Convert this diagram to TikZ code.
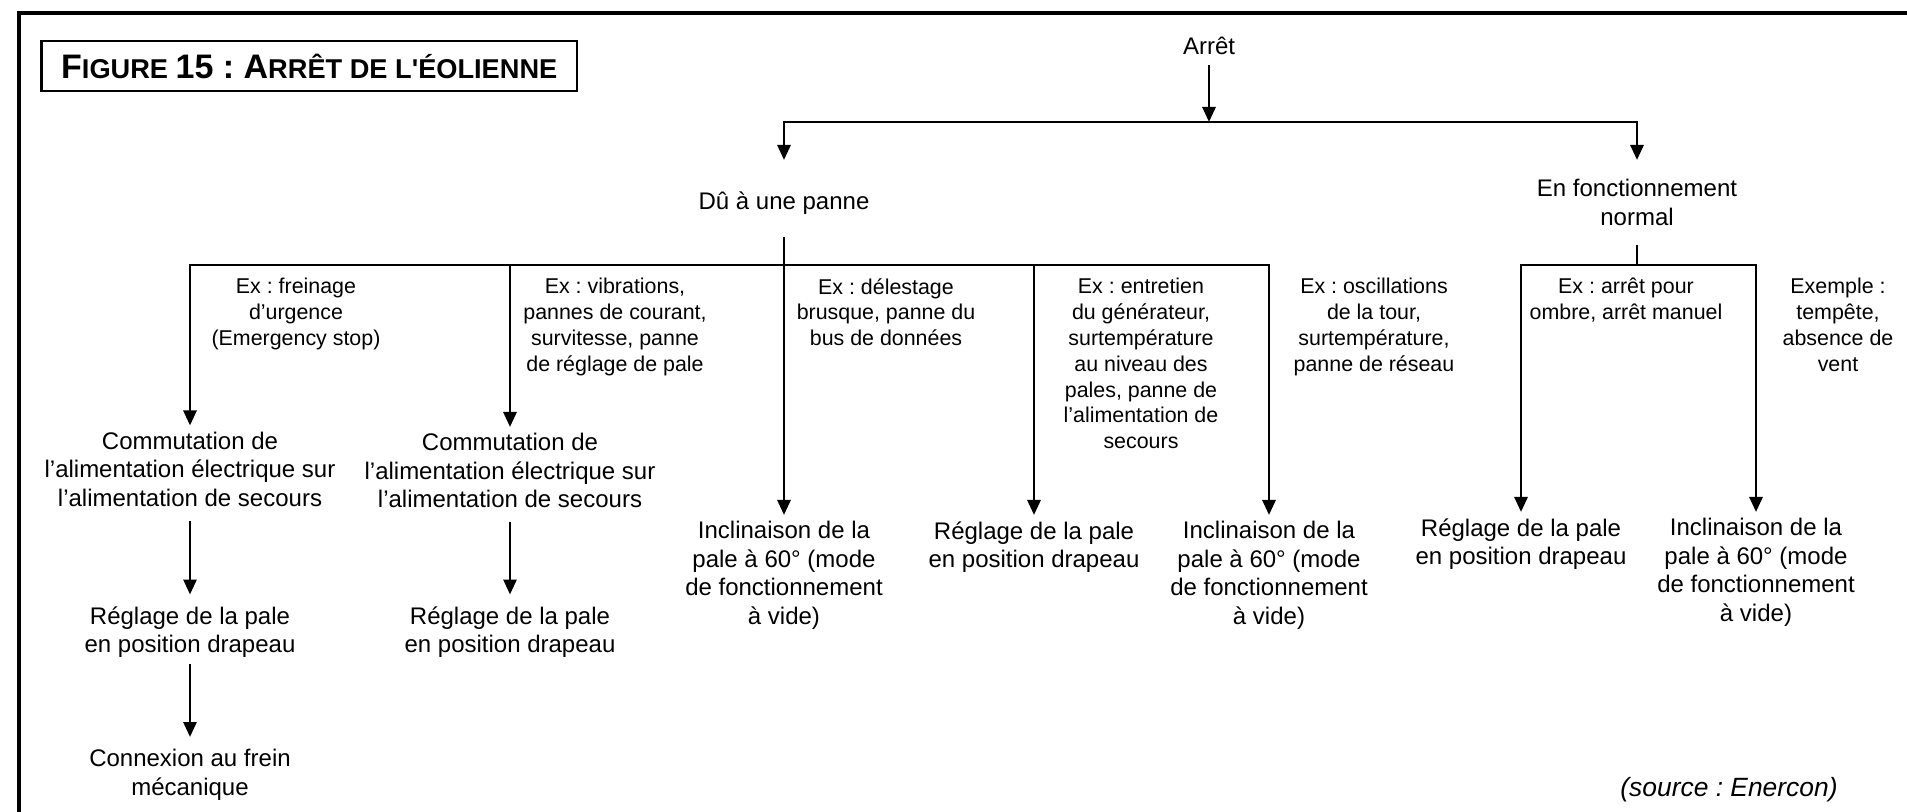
\documentclass[tikz,border=0pt]{standalone}
\usepackage{fontspec}
\setmainfont{Liberation Sans}
\newfontfamily\titlefont{Liberation Sans}
\usetikzlibrary{arrows.meta}
\tikzset{txt/.style={align=center,anchor=north,inner sep=3pt,font=\fontsize{12}{14.25}\selectfont},exlbl/.style={align=center,anchor=north,inner sep=0pt,font=\fontsize{10.7}{12.9}\selectfont},arr/.style={-{Triangle[length=7.5pt,width=6.5pt]},line width=1.4pt},bar/.style={line width=1.4pt}}
\newcommand{\capA}[1]{{\fontsize{17}{20}\selectfont #1}}
\newcommand{\capB}[1]{{\fontsize{13.6}{20}\selectfont #1}}
\frenchspacing

\begin{document}
\begin{tikzpicture}[x=0.5pt,y=-0.5pt]
\useasboundingbox (0,0) rectangle (1907,812);
\draw[line width=1.85pt] (19,812) |- (1907,13.3);
\node[draw,line width=1.2pt,minimum width=267.75pt,minimum height=25pt,inner sep=0pt,font=\titlefont\bfseries] (title) at (309.25,66) {\capA{F}\capB{IGURE }\capA{15 : A}\capB{RRÊT DE L\textquotesingle ÉOLIENNE}};
% main causes
\node[txt,anchor=center,inner ysep=5pt] (arret) at (1209,46) {Arrêt};
\node[txt,inner ysep=11.5pt] (panne) at (784,168) {Dû à une panne};
\node[txt,inner ysep=9.5pt] (normal) at (1637,160) {En fonctionnement\\normal};
% examples
\node[exlbl] (ex1) at (296,278) {Ex : freinage\\d’urgence\\(Emergency stop)};
\node[exlbl] (ex2) at (615,278) {Ex : vibrations,\\pannes de courant,\\survitesse, panne\\de réglage de pale};
\node[exlbl] (ex3) at (886,278) {Ex : délestage\\brusque, panne du\\bus de données};
\node[exlbl] (ex4) at (1141,278) {Ex : entretien\\du générateur,\\surtempérature\\au niveau des\\pales, panne de\\l’alimentation de\\secours};
\node[exlbl] (ex5) at (1374,278) {Ex : oscillations\\de la tour,\\surtempérature,\\panne de réseau};
\node[exlbl] (ex6) at (1626,278) {Ex : arrêt pour\\ombre, arrêt manuel};
\node[exlbl] (ex7) at (1838,278) {Exemple :\\tempête,\\absence de\\vent};
% actions
\node[txt] (c1) at (190,425.5) {Commutation de\\l’alimentation électrique sur\\l’alimentation de secours};
\node[txt] (c2) at (510,427) {Commutation de\\l’alimentation électrique sur\\l’alimentation de secours};
\node[txt] (r1) at (190,600) {Réglage de la pale\\en position drapeau};
\node[txt] (r2) at (510,600) {Réglage de la pale\\en position drapeau};
\node[txt] (f1) at (190,743) {Connexion au frein\\mécanique};
\node[txt] (i3) at (784,515) {Inclinaison de la\\pale à 60° (mode\\de fonctionnement\\à vide)};
\node[txt] (d4) at (1034,515) {Réglage de la pale\\en position drapeau};
\node[txt] (i5) at (1269,515) {Inclinaison de la\\pale à 60° (mode\\de fonctionnement\\à vide)};
\node[txt] (d6) at (1521,512) {Réglage de la pale\\en position drapeau};
\node[txt] (i7) at (1756,512) {Inclinaison de la\\pale à 60° (mode\\de fonctionnement\\à vide)};
\node[font=\itshape\fontsize{13.2}{15}\selectfont] (src) at (1729,790) {(source : Enercon)};
% connectors
\coordinate (top) at (1209,122);
\coordinate (mid) at (784,265);
\coordinate (midR) at (1637,265);
\draw[arr] (arret) -- (top);
\draw[arr,shorten >=4pt] (top) -| (panne);
\draw[arr] (top) -| (normal);
\draw[arr] (panne) -- (i3);
\draw[arr] (mid) -| (c1);
\draw[arr] (mid) -| (c2);
\draw[arr] (mid) -| (d4);
\draw[arr] (mid) -| (i5);
\draw[bar] (normal) -- (midR);
\draw[arr] (midR) -| (d6);
\draw[arr] (midR) -| (i7);
\draw[arr,shorten <=4pt,shorten >=2.75pt] (c1) -- (r1);
\draw[arr,shorten <=4pt,shorten >=2.75pt] (c2) -- (r2);
\draw[arr,shorten >=3pt] (r1) -- (f1);
\end{tikzpicture}
\end{document}
